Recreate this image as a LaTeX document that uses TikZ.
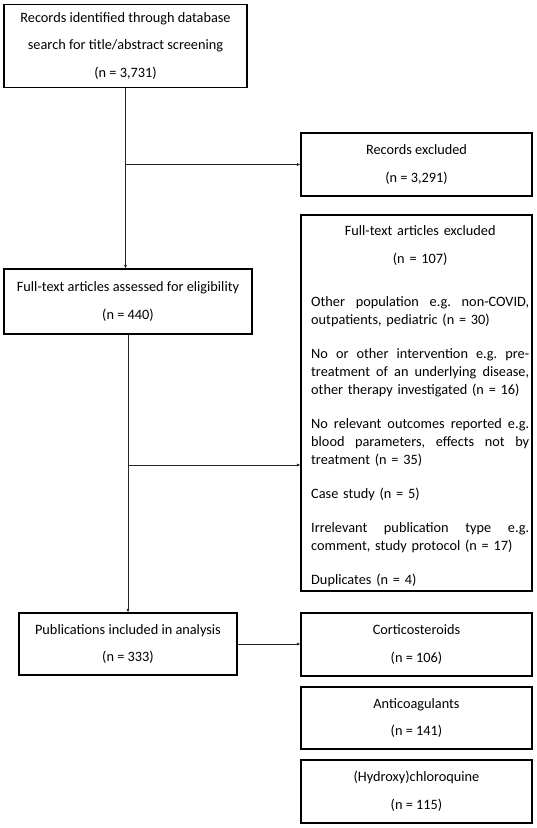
\documentclass[tikz,border=0pt]{standalone}
\usepackage{fontspec}
\setmainfont{Carlito}
\usetikzlibrary{arrows.meta}
\newlength{\exclw}
\setlength{\exclw}{218pt}
\newcommand{\jline}[1]{\makebox[\exclw][s]{\spaceskip=0pt\xspaceskip=0pt\frenchspacing #1}}
\begin{document}
\begin{tikzpicture}[x=1pt,y=-1pt,
  box/.style={draw=black,line width=1.1pt,rectangle,inner sep=0pt,align=center,
    font=\fontsize{14.3}{27.5}\selectfont},
  conn/.style={line width=0.9pt,draw=black!85},
  arr/.style={conn,-{Latex[length=3.5pt,width=3.2pt]}}]
\useasboundingbox (0,0) rectangle (536,828);
\node[box,minimum width=243pt,minimum height=83pt] (b1) at (125.5,46)
  {Records identified through database\\search for title/abstract screening\\(n = 3,731)};
\node[box,minimum width=231pt,minimum height=63pt] (b2) at (416.5,164.5)
  {Records excluded\\(n = 3,291)};
\node[box,minimum width=248pt,minimum height=65pt] (b3) at (128,301.5)
  {Full-text articles assessed for eligibility\\(n = 440)};
\node[box,minimum width=231pt,minimum height=376pt] (b4) at (416.5,403) {};
\node[anchor=north west,inner sep=0pt,align=left,text width=\exclw,
  font=\fontsize{14.3}{18}\selectfont] (b4text) at (311,225)
  {\makebox[\exclw][c]{Full-text articles excluded}\\[10pt]
   \makebox[\exclw][c]{(n = 107)}\\[25pt]
   \jline{Other population e.g. non-COVID,}\\
   outpatients, pediatric (n = 30)\\[16pt]
   \jline{No or other intervention e.g. pre-}\\
   \jline{treatment of an underlying disease,}\\
   other therapy investigated (n = 16)\\[16pt]
   \jline{No relevant outcomes reported e.g.}\\
   \jline{blood parameters, effects not by}\\
   treatment (n = 35)\\[16pt]
   Case study (n = 5)\\[16pt]
   \jline{Irrelevant publication type e.g.}\\
   comment, study protocol (n = 17)\\[16pt]
   Duplicates (n = 4)};
\node[box,minimum width=218pt,minimum height=62pt] (b5) at (128,644)
  {Publications included in analysis\\(n = 333)};
\node[box,minimum width=231pt,minimum height=63pt] (c1) at (416.5,644.5)
  {Corticosteroids\\(n = 106)};
\node[box,minimum width=231pt,minimum height=62pt] (c2) at (416.5,718)
  {Anticoagulants\\(n = 141)};
\node[box,minimum width=231pt,minimum height=63pt] (c3) at (416.5,791.5)
  {(Hydroxy)chloroquine\\(n = 115)};
\coordinate (j2) at (b4.west |- 0,465);
\draw[arr] (b1.south) -- (b1.south |- b3.north);
\draw[arr] (b1.south |- b2.west) -- (b2.west);
\draw[arr] (b3.south) -- (b3.south |- b5.north);
\draw[arr] (b3.south |- j2) -- (j2);
\draw[arr] (b5.east) -- (b5.east -| c1.west);
\end{tikzpicture}
\end{document}
